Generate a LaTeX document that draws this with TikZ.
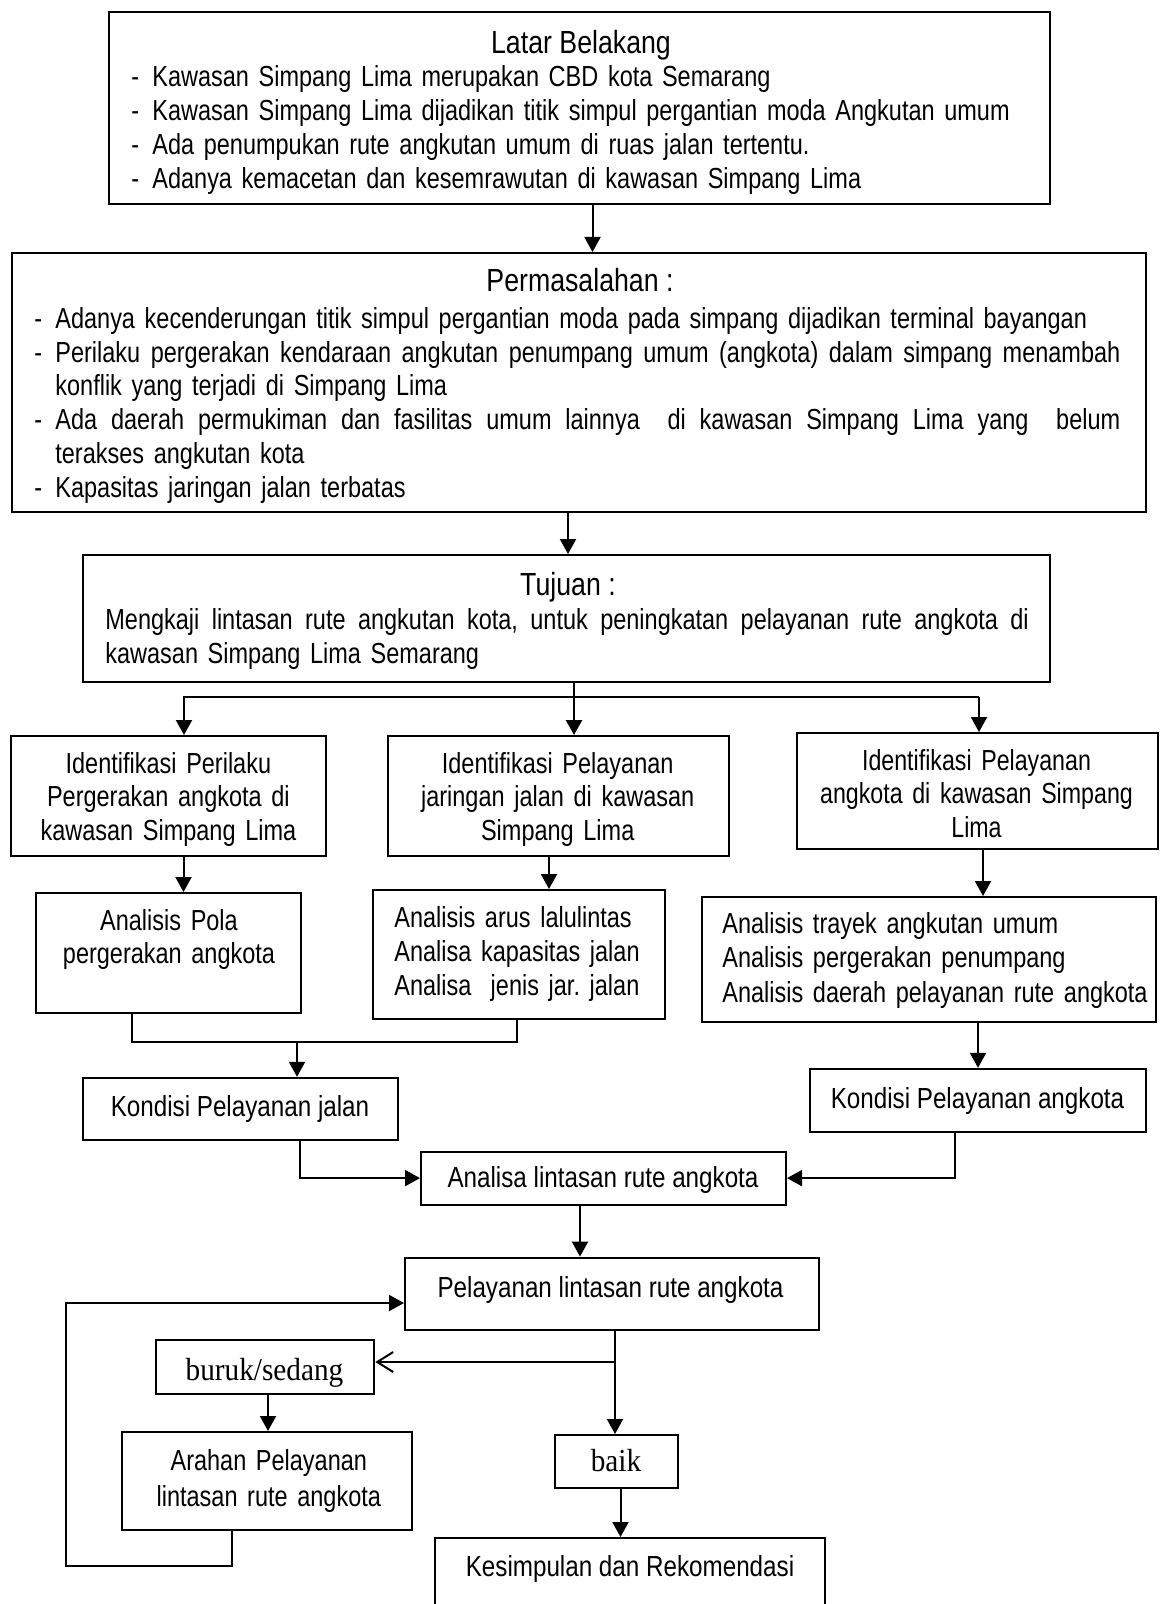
\documentclass[tikz,border=0pt]{standalone}
\usepackage{fontspec}
\newfontfamily\arn[FakeStretch=0.835]{Liberation Sans}
\newfontfamily\arm[FakeStretch=0.81]{Liberation Sans}
\newfontfamily\arq[FakeStretch=0.80]{Liberation Sans}
\newfontfamily\tnr[FakeStretch=0.915]{Liberation Serif}
\usetikzlibrary{arrows.meta,fit}
\frenchspacing
\newcommand\firstln{\noindent\rule{0pt}{12pt}}
\newcommand\dsh{\makebox[10.5pt][l]{-}}
\newcommand\jline[2]{\hbox to #1{\spaceskip=\fontdimen2\font plus 1fil\relax #2}}
\tikzset{
  bx/.style={draw, line width=1pt, inner sep=0pt, rectangle},
  tx/.style={inner sep=0pt, font=\arn\fontsize{14.5pt}{16.5pt}\selectfont},
  ttl/.style={inner sep=0pt, font=\arn\fontsize{16pt}{18pt}\selectfont},
  lsk/.style={inner sep=0pt, font=\arm\fontsize{14.5pt}{#1}\selectfont},
  lsq/.style={inner sep=0pt, font=\arq\fontsize{14.5pt}{#1}\selectfont},
  ser/.style={inner sep=0pt, font=\tnr\fontsize{16pt}{18pt}\selectfont},
  arr/.style={line width=1pt, -{Triangle[length=7.5pt,width=8pt]}},
  oarr/.style={line width=1pt, -{Straight Barb[length=8pt,width=10pt]}},
  ln/.style={line width=1pt},
}
\begin{document}
\begin{tikzpicture}[x=0.5pt,y=-0.5pt]
\useasboundingbox (0,0) rectangle (1166,1604);
\clip (0,0) rectangle (1166,1604);

% ---------- boxes ----------
\node[bx, fit={(109,12.5) (1050,204)}] (latar) {};
\node[bx, fit={(11.5,253) (1146,512)}] (perm) {};
\node[bx, fit={(83.4,555) (1050,682)}] (tuj) {};
\node[bx, fit={(10.7,736) (326,856)}] (id1) {};
\node[bx, fit={(388.4,736) (729.3,856)}] (id2) {};
\node[bx, fit={(796.5,733) (1158,849.3)}] (id3) {};
\node[bx, fit={(35.6,893) (301.2,1013)}] (an1) {};
\node[bx, fit={(373,890) (665,1019)}] (an2) {};
\node[bx, fit={(702.2,897) (1156,1022)}] (an3) {};
\node[bx, fit={(83.4,1077.8) (398,1140)}] (kj) {};
\node[bx, fit={(810,1068.8) (1146,1131.7)}] (ka) {};
\node[bx, fit={(421,1151.5) (786,1204.7)}] (al) {};
\node[bx, fit={(405,1257.6) (818.6,1330)}] (pl) {};
\node[bx, fit={(156,1339.6) (374.3,1394)}] (bs) {};
\node[bx, fit={(121.7,1432) (412.2,1530)}] (ar) {};
\node[bx, fit={(555.4,1435) (678.3,1488)}] (bk) {};
\node[bx, fit={(435,1538) (824.6,1620)}] (ks) {};

% ---------- texts ----------
\node[ttl, anchor=base] (tlat) at (581,54) {Latar Belakang};
\node[lsk=16.875pt, anchor=north west, text width=470pt, align=left] (ilat) at (131,62.5) {%
\firstln\dsh Kawasan Simpang Lima merupakan CBD kota Semarang\\
\dsh Kawasan Simpang Lima dijadikan titik simpul pergantian moda Angkutan umum\\
\dsh Ada penumpukan rute angkutan umum di ruas jalan tertentu.\\
\dsh Adanya kemacetan dan kesemrawutan di kawasan Simpang Lima};

\node[ttl, anchor=base] (tperm) at (580,292) {Permasalahan :};
\node[lsk=16.875pt, anchor=north west, text width=544pt, align=left] (iperm) at (34,304) {%
\firstln\dsh Adanya kecenderungan titik simpul pergantian moda pada simpang dijadikan terminal bayangan\\
\dsh\jline{532.5pt}{Perilaku pergerakan kendaraan angkutan penumpang umum (angkota) dalam simpang menambah}\\
\hspace*{10.5pt}konflik yang terjadi di Simpang Lima\\
\dsh\jline{532.5pt}{Ada daerah permukiman dan fasilitas umum lainnya\ \ di kawasan Simpang Lima yang\ \ belum}\\
\hspace*{10.5pt}terakses angkutan kota\\
\dsh Kapasitas jaringan jalan terbatas};

\node[ttl, anchor=base] (ttuj) at (568,595) {Tujuan :};
\node[lsk=17pt, anchor=north west, text width=470pt, align=left] (ituj) at (105,605) {%
\firstln\jline{461.7pt}{Mengkaji lintasan rute angkutan kota, untuk peningkatan pelayanan rute angkota di}\\
kawasan Simpang Lima Semarang};

\node[lsk=16.75pt, anchor=north, text width=170pt, align=center] (tid1) at (168.4,749) {%
\firstln Identifikasi Perilaku\\ Pergerakan angkota di\\ kawasan Simpang Lima};
\node[lsk=16.75pt, anchor=north, text width=170pt, align=center] (tid2) at (557.7,749) {%
\firstln Identifikasi Pelayanan\\ jaringan jalan di kawasan\\ Simpang Lima};
\node[lsq=16.75pt, anchor=north, text width=190pt, align=center] (tid3) at (976.5,746) {%
\firstln Identifikasi Pelayanan\\ angkota di kawasan Simpang\\ Lima};

\node[lsk=16.5pt, anchor=north, text width=150pt, align=center] (tan1) at (169,906) {%
\firstln Analisis Pola\\ pergerakan angkota};
\node[lsk=17pt, anchor=north west, text width=150pt, align=left] (tan2) at (394,903) {%
\firstln Analisis arus lalulintas\\ Analisa kapasitas jalan\\ Analisa\ \ jenis jar. jalan};
\node[lsk=17.25pt, anchor=north west, text width=230pt, align=left] (tan3) at (722,909) {%
\firstln Analisis trayek angkutan umum\\ Analisis pergerakan penumpang\\ Analisis daerah pelayanan rute angkota};

\node[tx, anchor=base] (tkj) at (240,1116) {Kondisi Pelayanan jalan};
\node[tx, anchor=base] (tka) at (977.5,1108) {Kondisi Pelayanan angkota};
\node[tx, anchor=base] (tal) at (603,1187.5) {Analisa lintasan rute angkota};
\node[tx, anchor=base] (tpl) at (610.5,1297) {Pelayanan lintasan rute angkota};
\node[ser, anchor=base] (tbs) at (264.5,1380) {buruk/sedang};
\node[lsk=18pt, anchor=north, text width=170pt, align=center] (tar) at (268.8,1446) {%
\firstln Arahan Pelayanan\\ lintasan rute angkota};
\node[ser, anchor=base] (tbk) at (616,1471.6) {baik};
\node[tx, anchor=base] (tks) at (630,1576) {Kesimpulan dan Rekomendasi};

% ---------- connectors ----------
\coordinate (xA) at (592.5,0);
\coordinate (xB) at (568,0);
\coordinate (xC) at (574,0);
\coordinate (xD) at (184,0);
\coordinate (xE) at (979,0);
\coordinate (yBr) at (0,697);
\coordinate (xF) at (183.5,0);
\coordinate (xG) at (549,0);
\coordinate (xH) at (983,0);
\coordinate (yJn) at (0,1042);
\coordinate (xI) at (132,0);
\coordinate (xJ) at (517,0);
\coordinate (xK) at (297,0);
\coordinate (xL) at (978,0);
\coordinate (xM) at (300,0);
\coordinate (xN) at (955,0);
\coordinate (xO) at (580,0);
\coordinate (xP) at (231.5,0);
\coordinate (yQ) at (0,1566);
\coordinate (xR) at (66,0);
\coordinate (yS) at (0,1303);
\coordinate (xT) at (615,0);
\coordinate (yU) at (0,1362);
\coordinate (xV) at (268,0);
\coordinate (xW) at (620.5,0);

\draw[arr] (latar.south -| xA) -- (perm.north -| xA);
\draw[arr] (perm.south -| xB) -- (tuj.north -| xB);
\draw[arr, line width=1.4pt] (tuj.south -| xC) -- (id2.north -| xC);
\draw[arr] (xE |- yBr) -| (id1.north -| xD);
\draw[arr] (xE |- yBr) -- (id3.north -| xE);
\draw[arr] (id1.south -| xF) -- (an1.north -| xF);
\draw[arr] (id2.south -| xG) -- (an2.north -| xG);
\draw[arr] (id3.south -| xH) -- (an3.north -| xH);
\draw[ln] (an1.south -| xI) |- (xJ |- yJn) -- (an2.south -| xJ);
\draw[arr] (xK |- yJn) -- (kj.north -| xK);
\draw[arr] (an3.south -| xL) -- (ka.north -| xL);
\draw[arr] (kj.south -| xM) |- (al.west);
\draw[arr] (ka.south -| xN) |- (al.east);
\draw[arr] (al.south -| xO) -- (pl.north -| xO);
\draw[arr] (ar.south -| xP) |- (xR |- yQ) |- (pl.west |- yS);
\draw[arr] (pl.south -| xT) -- (bk.north -| xT);
\draw[oarr] (xT |- yU) -- (bs.east |- yU);
\draw[arr] (bs.south -| xV) -- (ar.north -| xV);
\draw[arr] (bk.south -| xW) -- (ks.north -| xW);
\end{tikzpicture}
\end{document}
